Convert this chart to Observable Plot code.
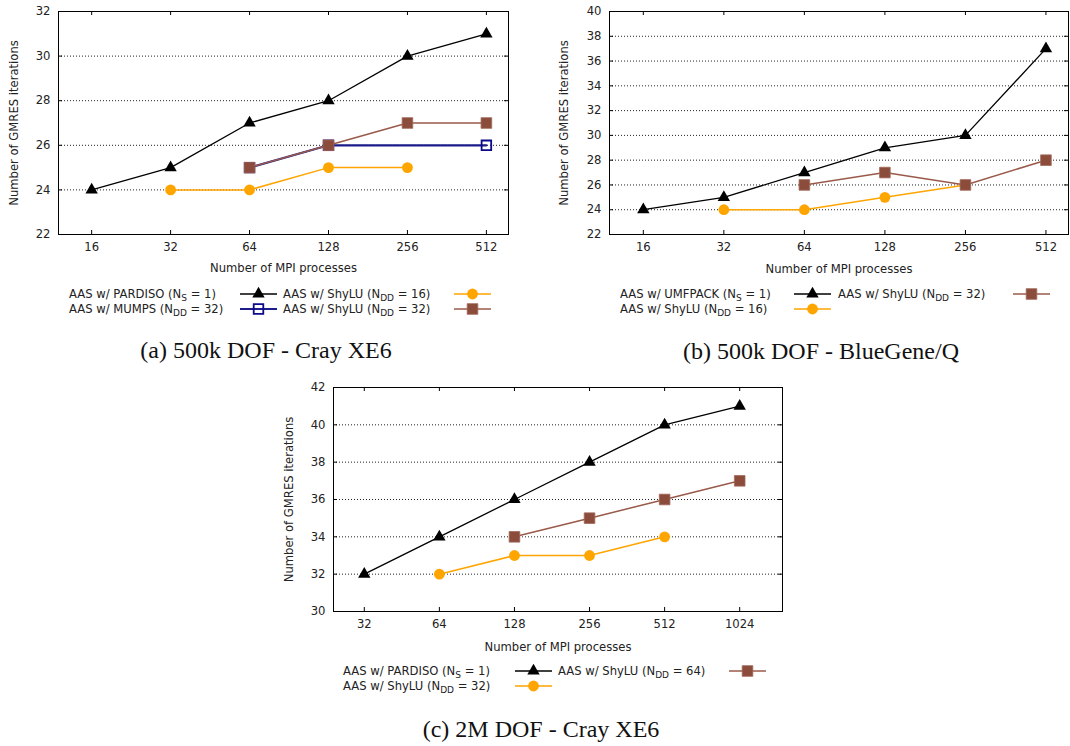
<!DOCTYPE html>
<html>
<head>
<meta charset="utf-8">
<script src="https://cdn.jsdelivr.net/npm/d3@7"></script>
<script src="https://cdn.jsdelivr.net/npm/@observablehq/plot@0.6"></script>
<style>
  html, body { margin: 0; padding: 0; background: #fff; }
  #root { position: relative; width: 1070px; height: 746px; overflow: hidden; background: #fff; }
  .abs { position: absolute; }
  .leg { position: absolute; font-family: "DejaVu Sans", sans-serif; font-size: 11.6px; color: #222; white-space: nowrap; line-height: 1; height: 11px; transform: translateY(-50%); }
  .leg sub { font-size: 9px; vertical-align: -3px; line-height: 0; }
  .cap { position: absolute; font-family: "Liberation Serif", serif; font-size: 24px; color: #111; white-space: nowrap; transform: translate(-50%, -50%); }
  svg.sample { position: absolute; overflow: visible; }
</style>
</head>
<body>
<div id="root"></div>
<script>
// ---------- DATA ----------
// Panel (a): 500k DOF - Cray XE6
const procsA = [16, 32, 64, 128, 256, 512];
const yTicksA = [22, 24, 26, 28, 30, 32];
const a_pardiso = [24, 25, 27, 28, 30, 31];
const a_shylu16 = [null, 24, 24, 25, 25, null];
const a_mumps32 = [null, null, 25, 26, null, 26];
const a_shylu32 = [null, null, 25, 26, 27, 27];

// Panel (b): 500k DOF - BlueGene/Q
const procsB = [16, 32, 64, 128, 256, 512];
const yTicksB = [22, 24, 26, 28, 30, 32, 34, 36, 38, 40];
const b_umfpack = [24, 25, 27, 29, 30, 37];
const b_shylu16 = [null, 24, 24, 25, 26, null];
const b_shylu32 = [null, null, 26, 27, 26, 28];

// Panel (c): 2M DOF - Cray XE6
const procsC = [32, 64, 128, 256, 512, 1024];
const yTicksC = [30, 32, 34, 36, 38, 40, 42];
const c_pardiso = [32, 34, 36, 38, 40, 41];
const c_shylu32 = [null, 32, 33, 33, 34, null];
const c_shylu64 = [null, null, 34, 35, 36, 37];

const xLabel = "Number of MPI processes";
const yLabel = "Number of GMRES iterations";
const captions = ["(a) 500k DOF - Cray XE6", "(b) 500k DOF - BlueGene/Q", "(c) 2M DOF - Cray XE6"];

// ---------- STYLES ----------
const STY = {
  black:  {stroke: "#000000", width: 1.3, symbol: "triangle", r: 4.6, fill: "#000000", mstroke: "none"},
  orange: {stroke: "#FFA500", width: 1.5, symbol: "circle", r: 5.4, fill: "#FFA500", mstroke: "none"},
  brown:  {stroke: "#9a5a4a", width: 1.5, symbol: "square", r: 6.0, fill: "#8b4c3c", mstroke: "#a36a5c"},
  navy:   {stroke: "#1c1c8c", width: 2.2, symbol: "square", r: 5.4, fill: "none", mstroke: "#0a0a8a"}
};

function rows(procs, vals) {
  return procs.map((p, i) => ({p, v: vals[i]})).filter(d => d.v != null);
}

function seriesMarks(procs, vals, s) {
  const data = rows(procs, vals);
  return [
    Plot.line(data, {x: "p", y: "v", stroke: s.stroke, strokeWidth: s.width}),
    Plot.dot(data, {x: "p", y: "v", symbol: s.symbol, r: s.r, fill: s.fill, stroke: s.mstroke,
      strokeWidth: s.fill === "none" ? 1.8 : 0.8})
  ];
}

function panel(cfg) {
  const plotW = cfg.width - cfg.ml - cfg.mr;
  const plotH = cfg.height - cfg.mt - cfg.mb;
  const ymin = cfg.yTicks[0], ymax = cfg.yTicks[cfg.yTicks.length - 1];
  const grid = cfg.yTicks.slice(1, -1);
  const chart = Plot.plot({
    width: cfg.width, height: cfg.height,
    marginLeft: cfg.ml, marginRight: cfg.mr, marginTop: cfg.mt, marginBottom: cfg.mb,
    style: {fontFamily: "DejaVu Sans, sans-serif", fontSize: "11.6px", color: "#222", background: "transparent", overflow: "visible"},
    x: {type: "log", base: 2, domain: cfg.xDomain},
    y: {domain: [ymin, ymax]},
    marks: [
      Plot.ruleY(grid, {stroke: "#222", strokeWidth: 1, strokeDasharray: "1,2"}),
      Plot.tickX(cfg.procs, {x: d => d, insetBottom: plotH - 4, stroke: "#000"}),
      Plot.tickX(cfg.procs, {x: d => d, insetTop: plotH - 4, stroke: "#000"}),
      Plot.tickY(cfg.yTicks, {y: d => d, insetRight: plotW - 4, stroke: "#000"}),
      Plot.tickY(cfg.yTicks, {y: d => d, insetLeft: plotW - 4, stroke: "#000"}),
      Plot.axisX({ticks: cfg.procs, tickFormat: d => String(d), tickSize: 0, tickPadding: 8, label: null}),
      Plot.axisY({ticks: cfg.yTicks, tickFormat: d => String(d), tickSize: 0, tickPadding: 8, label: null}),
      ...cfg.series.flatMap(([vals, s]) => seriesMarks(cfg.procs, vals, s)),
      Plot.frame({stroke: "#000", strokeWidth: 1}),
      Plot.text([xLabel], {frameAnchor: "bottom", dy: cfg.xlDy, lineAnchor: "middle", fontSize: 11.6}),
      Plot.text([yLabel], {frameAnchor: "left", dx: cfg.ylDx, rotate: -90, lineAnchor: "middle", textAnchor: "middle", fontSize: 11.6})
    ]
  });
  chart.classList.add("abs");
  chart.style.left = cfg.left + "px";
  chart.style.top = cfg.top + "px";
  return chart;
}

function sampleSvg(s, x, y) {
  const ns = "http://www.w3.org/2000/svg";
  const svg = document.createElementNS(ns, "svg");
  svg.setAttribute("class", "sample");
  svg.setAttribute("width", 37); svg.setAttribute("height", 14);
  svg.style.left = x + "px"; svg.style.top = (y - 7) + "px";
  const line = document.createElementNS(ns, "line");
  line.setAttribute("x1", 0); line.setAttribute("x2", 37);
  line.setAttribute("y1", 7); line.setAttribute("y2", 7);
  line.setAttribute("stroke", s.stroke); line.setAttribute("stroke-width", s.width);
  svg.appendChild(line);
  const sym = {triangle: d3.symbolTriangle, circle: d3.symbolCircle, square: d3.symbolSquare}[s.symbol];
  const path = document.createElementNS(ns, "path");
  path.setAttribute("d", d3.symbol(sym, Math.PI * s.r * s.r)());
  path.setAttribute("transform", "translate(18.5,7)");
  path.setAttribute("fill", s.fill);
  path.setAttribute("stroke", s.mstroke);
  path.setAttribute("stroke-width", s.fill === "none" ? 1.8 : 0.8);
  svg.appendChild(path);
  return svg;
}

function legend(root, items) {
  for (const it of items) {
    const d = document.createElement("div");
    d.className = "leg";
    d.style.left = it.tx + "px";
    d.style.top = it.y + "px";
    d.innerHTML = it.html;
    root.appendChild(d);
    root.appendChild(sampleSvg(it.s, it.sx, it.y));
  }
}

function caption(root, text, cx, cy) {
  const d = document.createElement("div");
  d.className = "cap";
  d.style.left = cx + "px"; d.style.top = cy + "px";
  d.textContent = text;
  root.appendChild(d);
}

const root = document.getElementById("root");

root.appendChild(panel({
  left: 0, top: 0, width: 540, height: 278, ml: 58, mr: 32, mt: 11, mb: 44,
  procs: procsA, yTicks: yTicksA, xDomain: [16 / Math.pow(2, 0.42), 512 * Math.pow(2, 0.28)],
  xlDy: 34, ylDx: -44,
  series: [[a_pardiso, STY.black], [a_shylu16, STY.orange], [a_mumps32, STY.navy], [a_shylu32, STY.brown]]
}));

root.appendChild(panel({
  left: 540, top: 0, width: 530, height: 278, ml: 69, mr: 2, mt: 11, mb: 44,
  procs: procsB, yTicks: yTicksB, xDomain: [16 / Math.pow(2, 0.42), 512 * Math.pow(2, 0.28)],
  xlDy: 35, ylDx: -45,
  series: [[b_umfpack, STY.black], [b_shylu16, STY.orange], [b_shylu32, STY.brown]]
}));

root.appendChild(panel({
  left: 270, top: 370, width: 540, height: 290, ml: 63, mr: 28, mt: 17, mb: 49,
  procs: procsC, yTicks: yTicksC, xDomain: [32 / Math.pow(2, 0.41), 1024 * Math.pow(2, 0.57)],
  xlDy: 36, ylDx: -44,
  series: [[c_pardiso, STY.black], [c_shylu32, STY.orange], [c_shylu64, STY.brown]]
}));

legend(root, [
  {html: "AAS w/ PARDISO (N<sub>S</sub> = 1)", tx: 69, sx: 240, y: 294, s: STY.black},
  {html: "AAS w/ ShyLU (N<sub>DD</sub> = 16)", tx: 283, sx: 454, y: 294, s: STY.orange},
  {html: "AAS w/ MUMPS (N<sub>DD</sub> = 32)", tx: 69, sx: 240, y: 309, s: STY.navy},
  {html: "AAS w/ ShyLU (N<sub>DD</sub> = 32)", tx: 283, sx: 454, y: 309, s: STY.brown},

  {html: "AAS w/ UMFPACK (N<sub>S</sub> = 1)", tx: 620, sx: 794, y: 294, s: STY.black},
  {html: "AAS w/ ShyLU (N<sub>DD</sub> = 32)", tx: 838, sx: 1013, y: 294, s: STY.brown},
  {html: "AAS w/ ShyLU (N<sub>DD</sub> = 16)", tx: 620, sx: 794, y: 309, s: STY.orange},

  {html: "AAS w/ PARDISO (N<sub>S</sub> = 1)", tx: 343, sx: 515, y: 671, s: STY.black},
  {html: "AAS w/ ShyLU (N<sub>DD</sub> = 64)", tx: 558, sx: 729, y: 671, s: STY.brown},
  {html: "AAS w/ ShyLU (N<sub>DD</sub> = 32)", tx: 343, sx: 515, y: 686, s: STY.orange}
]);

caption(root, captions[0], 266, 350);
caption(root, captions[1], 821, 351);
caption(root, captions[2], 541, 729);
</script>
</body>
</html>
